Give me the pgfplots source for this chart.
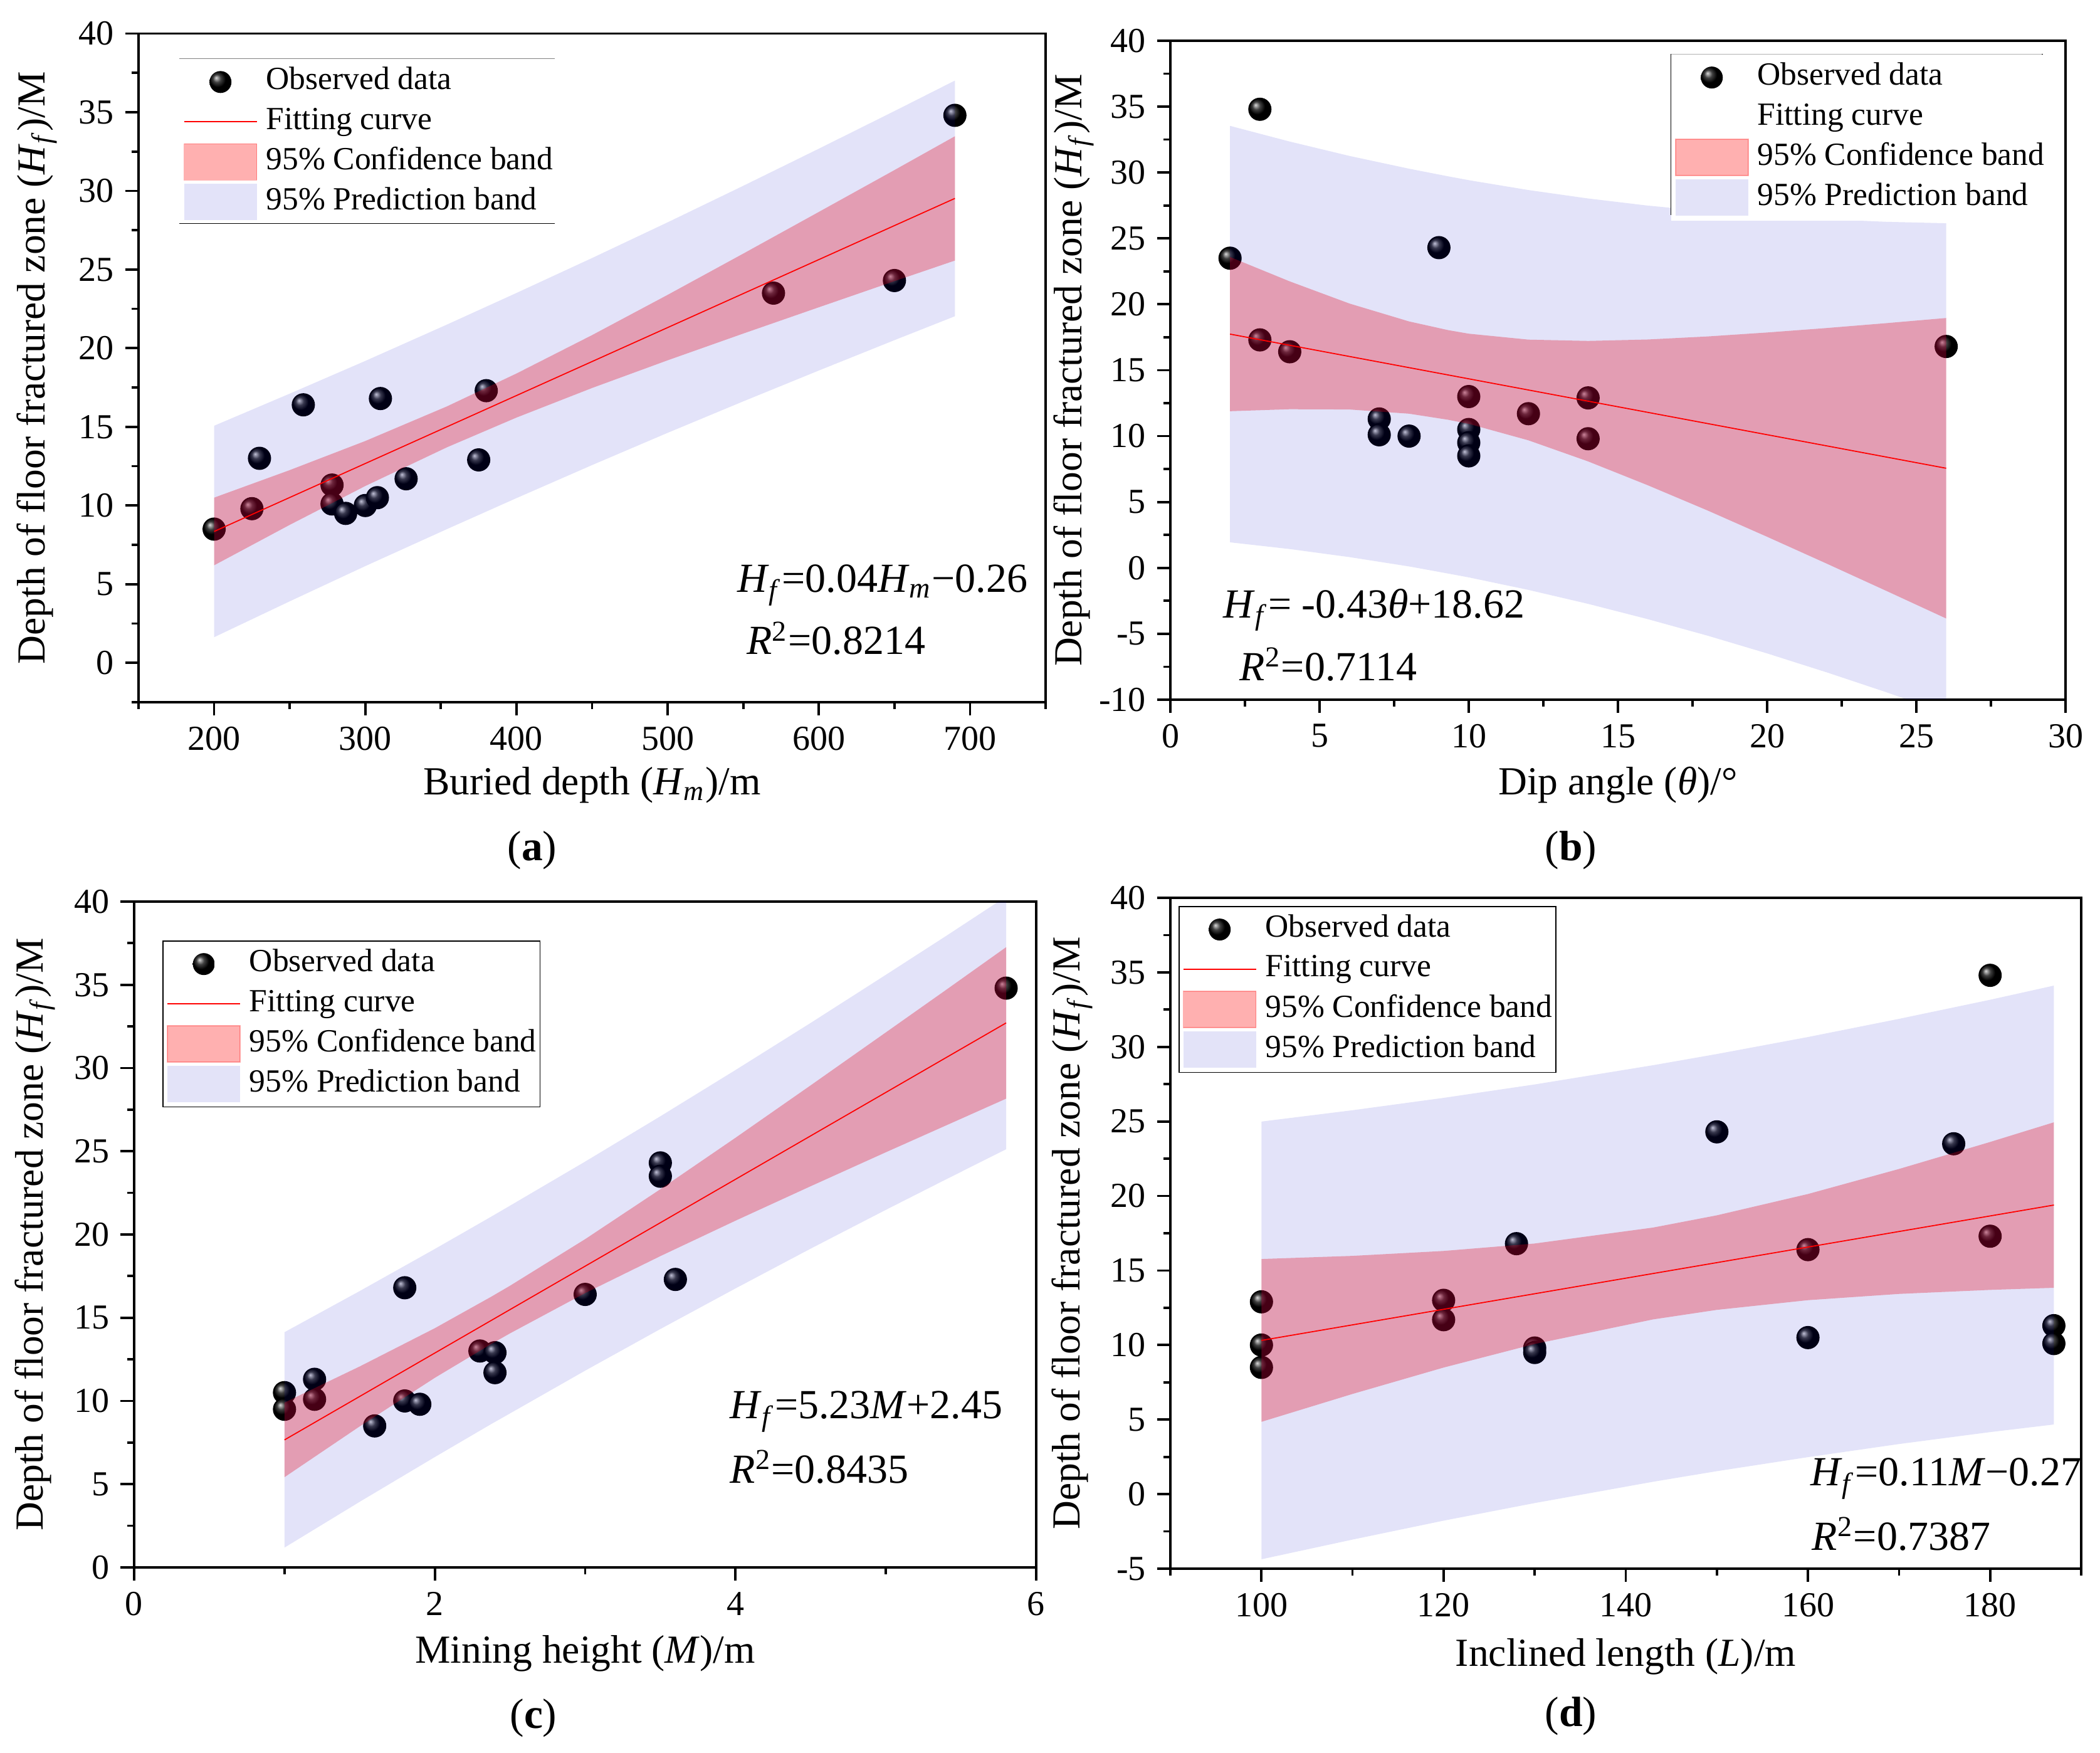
\documentclass[border=0pt]{standalone}
\usepackage{fontspec}
\setmainfont{Liberation Serif}
\usepackage{pgfplots}
\pgfplotsset{compat=1.18}
\definecolor{pibl}{RGB}{0,0,200}
\pgfplotsset{
  panel/.style={
    scale only axis, anchor=south west,
    clip marker paths=true,
    axis line style={line width=0.75pt},
    tick style={line width=0.75pt, black},
    major tick length=4.3pt, minor tick length=2.2pt,
    tick align=outside, xtick pos=bottom, ytick pos=left,
    minor tick num=1,
    /pgf/number format/assume math mode=true,
    /pgf/number format/1000 sep={},
    tick label style={font=\fontsize{11.2}{13}\selectfont},
    label style={font=\fontsize{12.7}{14}\selectfont},
    ylabel={Depth of floor fractured zone (\textit{H}\textsubscript{\textit{f}})/M},
    legend cell align=left,
    legend style={font=\fontsize{10.3}{12}\selectfont, inner xsep=1.2pt, inner ysep=1.5pt,
      row sep=1.07pt, nodes={inner sep=0pt, text height=7pt, text depth=2.2pt},
      /tikz/every odd column/.append style={column sep=2.8pt},
      line width=0.3pt, anchor=north west, fill=white},
  },
  obs/.style={only marks, mark=ball, mark size=3.5pt, mark options={ball color=black}, forget plot},
  ci/.style={draw=none, fill=red, fill opacity=0.31, forget plot},
  pi/.style={draw=none, fill=pibl, fill opacity=0.11, forget plot},
  fit/.style={red, line width=0.35pt, mark=none, forget plot},
  legball/.style={legend image code/.code={\path[draw=none, fill=none] (0pt,-5.8pt) rectangle (23.2pt,5.8pt); \shade[draw=none, ball color=black] (11.6pt,0pt) circle (3.5pt);}},
  legline/.style={legend image code/.code={\path[draw=none, fill=none] (0pt,-5.8pt) rectangle (23.2pt,5.8pt); \draw[red, line width=0.35pt] (0pt,0pt) -- (23.2pt,0pt);}},
  legnone/.style={legend image code/.code={\path[draw=none, fill=none] (0pt,-5.8pt) rectangle (23.2pt,5.8pt);}},
  legci/.style={legend image code/.code={\fill[draw=none, red, fill opacity=0.31] (0pt,-5.8pt) rectangle (23.2pt,5.8pt); \draw[red, draw opacity=0.3, fill=none, line width=0.3pt] (0pt,-5.8pt) rectangle (23.2pt,5.8pt);}},
  legpi/.style={legend image code/.code={\fill[draw=none, pibl, fill opacity=0.11] (0pt,-5.8pt) rectangle (23.2pt,5.8pt);}},
}
\newcommand{\eqfont}{\fontsize{13.2}{15}\selectfont}
\begin{document}
\begin{tikzpicture}
\useasboundingbox (0pt,0pt) rectangle (670pt,559.2pt);

% ---------------- (a)
\begin{axis}[panel, at={(44.2pt,335.2pt)}, width=289.4pt, height=213.3pt,
  xmin=150, xmax=750, ymin=-2.5, ymax=40,
  xtick={100,200,...,800}, ytick={-5,0,...,40},
  xlabel={Buried depth (\textit{H}\textsubscript{\textit{m}})/m},
  xlabel style={at={(axis description cs:0.5,-0.124)}, anchor=center},
  ylabel style={at={(axis description cs:-0.112,0.5)}, anchor=center},
  legend style={at={(0.045,0.9624)}, draw=none, fill=none}]
\addlegendimage{legball}
\addlegendimage{legline}
\addlegendimage{legci}
\addlegendimage{legpi}
\addplot[obs] coordinates {(200,8.5) (225,9.8) (230,13.0) (259,16.4) (278,11.3) (278,10.1) (287,9.5) (300,10.0) (308,10.5) (310,16.8) (327,11.7) (375,12.9) (380,17.3) (570,23.5) (650,24.3) (690,34.8)};
\addplot[ci] coordinates {(200,10.50) (250,12.25) (300,14.10) (354,16.30) (400,18.39) (450,20.83) (500,23.39) (550,26.01) (600,28.66) (650,31.32) (690,33.47)
 (690,25.57) (650,24.26) (600,22.60) (550,20.93) (500,19.23) (450,17.47) (400,15.59) (354,13.70) (300,11.24) (250,8.77) (200,6.20)} -- cycle;
\addplot[pi] coordinates {(200,15.07) (250,17.11) (300,19.19) (354,21.50) (400,23.51) (450,25.73) (500,28.00) (550,30.32) (600,32.68) (650,35.07) (690,37.01)
 (690,22.03) (650,20.51) (600,18.58) (550,16.62) (500,14.62) (450,12.57) (400,10.47) (354,8.50) (300,6.15) (250,3.91) (200,1.63)} -- cycle;
\addplot[fit] coordinates {(200,8.35) (690,29.52)};
\draw[gray, line width=0.3pt] (rel axis cs:0.045,0.9624) -- (rel axis cs:0.459,0.9624);
\draw[black, line width=0.3pt] (rel axis cs:0.045,0.716) -- (rel axis cs:0.459,0.716);
\node[anchor=base west, font=\eqfont, inner sep=0pt] at (axis cs:545.6,4.5) {\textit{H}\textsubscript{\textit{f}}=0.04\textit{H}\textsubscript{\textit{m}}−0.26};
\node[anchor=base west, font=\eqfont, inner sep=0pt] at (axis cs:552,0.53) {\textit{R}\textsuperscript{2}=0.8214};
\legend{Observed data, Fitting curve, 95\% Confidence band, 95\% Prediction band}
\end{axis}

% ---------------- (b)
\begin{axis}[panel, at={(373.4pt,336.0pt)}, width=285.6pt, height=210.2pt,
  xmin=0, xmax=30, ymin=-10, ymax=40,
  xtick={0,5,...,30}, ytick={-10,-5,...,40},
  xlabel={Dip angle (\textit{θ})/°},
  xlabel style={at={(axis description cs:0.5,-0.130)}, anchor=center},
  ylabel style={at={(axis description cs:-0.108,0.5)}, anchor=center},
  legend style={at={(0.559,0.9796)}, draw=none, fill=white}]
\addlegendimage{legball}
\addlegendimage{legnone}
\addlegendimage{legci}
\addlegendimage{legpi}
\addplot[obs] coordinates {(2,23.5) (3,34.8) (3,17.3) (4,16.4) (7,11.3) (7,10.1) (8,10.0) (9,24.3) (10,13.0) (10,10.5) (10,9.5) (10,8.5) (12,11.7) (14,12.9) (14,9.8) (26,16.8)};
\addplot[ci] coordinates {(2,23.59) (4,21.74) (6,20.06) (8,18.70) (9.31,18.04) (10,17.77) (12,17.32) (14,17.22) (16,17.33) (18,17.56) (20,17.86) (22,18.20) (24,18.57) (26,18.96)
 (26,-3.84) (24,-1.75) (22,0.32) (20,2.36) (18,4.36) (16,6.27) (14,8.08) (12,9.68) (10,10.93) (9.31,11.24) (8,11.70) (6,12.02) (4,12.04) (2,11.89)} -- cycle;
\addplot[pi] coordinates {(2,33.54) (4,32.35) (6,31.26) (8,30.29) (9.31,29.71) (10,29.42) (12,28.67) (14,28.03) (16,27.49) (18,27.06) (20,26.71) (22,26.45) (24,26.26) (26,26.15)
 (26,-11.03) (24,-9.44) (22,-7.93) (20,-6.49) (18,-5.14) (16,-3.89) (14,-2.73) (12,-1.67) (10,-0.72) (9.31,-0.43) (8,0.11) (6,0.82) (4,1.43) (2,1.94)} -- cycle;
\addplot[fit] coordinates {(2,17.74) (26,7.56)};
\draw[gray!60, line width=0.3pt] (rel axis cs:0.559,0.9796) -- (rel axis cs:0.974,0.9796);
\draw[black, line width=0.3pt] (rel axis cs:0.559,0.9796) -- (rel axis cs:0.559,0.7353);
\draw[black, line width=0.3pt] (rel axis cs:0.974,0.9796) -- (rel axis cs:0.974,0.7353);
\node[anchor=base west, font=\eqfont, inner sep=0pt] at (axis cs:1.76,-3.77) {\textit{H}\textsubscript{\textit{f}}= -0.43\textit{θ}+18.62};
\node[anchor=base west, font=\eqfont, inner sep=0pt] at (axis cs:2.31,-8.56) {\textit{R}\textsuperscript{2}=0.7114};
\legend{Observed data, Fitting curve, 95\% Confidence band, 95\% Prediction band}
\end{axis}

% ---------------- (c)
\begin{axis}[panel, at={(42.8pt,59.2pt)}, width=287.8pt, height=212.4pt,
  xmin=0, xmax=6, ymin=0, ymax=40,
  xtick={0,2,4,6}, ytick={0,5,...,40},
  xlabel={Mining height (\textit{M})/m},
  xlabel style={at={(axis description cs:0.5,-0.129)}, anchor=center},
  ylabel style={at={(axis description cs:-0.110,0.5)}, anchor=center},
  legend style={at={(0.0316,0.9412)}, draw=black}]
\addlegendimage{legball}
\addlegendimage{legline}
\addlegendimage{legci}
\addlegendimage{legpi}
\addplot[obs] coordinates {(1.0,10.5) (1.0,9.5) (1.2,11.3) (1.2,10.1) (1.6,8.5) (1.8,16.8) (1.8,10.0) (1.9,9.8) (2.3,13.0) (2.4,12.9) (2.4,11.7) (3.0,16.4) (3.5,24.3) (3.5,23.5) (3.6,17.3) (5.8,34.8)};
\addplot[ci] coordinates {(1.0,9.90) (1.5,12.07) (2.0,14.37) (2.375,16.26) (2.5,16.92) (3.0,19.72) (3.5,22.72) (4.0,25.81) (4.5,28.96) (5.0,32.14) (5.4,34.69) (5.8,37.26)
 (5.8,28.16) (5.4,26.55) (5.0,24.94) (4.5,22.90) (4.0,20.83) (3.5,18.70) (3.0,16.48) (2.5,14.06) (2.375,13.42) (2.0,11.39) (1.5,8.47) (1.0,5.42)} -- cycle;
\addplot[pi] coordinates {(1.0,14.13) (1.5,16.60) (2.0,19.13) (2.375,21.07) (2.5,21.73) (3.0,24.38) (3.5,27.10) (4.0,29.88) (4.5,32.71) (5.0,35.60) (5.4,37.93) (5.8,40.30)
 (5.8,25.12) (5.4,23.31) (5.0,21.48) (4.5,19.15) (4.0,16.76) (3.5,14.32) (3.0,11.82) (2.5,9.25) (2.375,8.61) (2.0,6.63) (1.5,3.94) (1.0,1.19)} -- cycle;
\addplot[fit] coordinates {(1.0,7.66) (5.8,32.71)};
\node[anchor=base west, font=\eqfont, inner sep=0pt] at (axis cs:3.96,8.93) {\textit{H}\textsubscript{\textit{f}}=5.23\textit{M}+2.45};
\node[anchor=base west, font=\eqfont, inner sep=0pt] at (axis cs:3.96,5.07) {\textit{R}\textsuperscript{2}=0.8435};
\legend{Observed data, Fitting curve, 95\% Confidence band, 95\% Prediction band}
\end{axis}

% ---------------- (d)
\begin{axis}[panel, at={(373.4pt,58.8pt)}, width=290.6pt, height=214.0pt,
  xmin=90, xmax=190, ymin=-5, ymax=40,
  xtick={80,100,...,200}, ytick={-5,0,...,40},
  xlabel={Inclined length (\textit{L})/m},
  xlabel style={at={(axis description cs:0.5,-0.131)}, anchor=center},
  ylabel style={at={(axis description cs:-0.108,0.5)}, anchor=center},
  legend style={at={(0.009,0.9875)}, draw=black}]
\addlegendimage{legball}
\addlegendimage{legline}
\addlegendimage{legci}
\addlegendimage{legpi}
\addplot[obs] coordinates {(100,12.9) (100,10.0) (100,8.5) (120,13.0) (120,11.7) (128,16.8) (130,9.8) (130,9.5) (150,24.3) (160,16.4) (160,10.5) (176,23.5) (180,34.8) (180,17.3) (187,11.3) (187,10.1)};
\addplot[ci] coordinates {(100,15.77) (110,15.98) (120,16.31) (130,16.81) (143,17.88) (150,18.70) (160,20.13) (170,21.81) (180,23.62) (187,24.94)
 (187,13.84) (180,13.70) (170,13.43) (160,13.01) (150,12.36) (143,11.72) (130,10.07) (120,8.49) (110,6.72) (100,4.85)} -- cycle;
\addplot[pi] coordinates {(100,24.99) (110,25.75) (120,26.58) (130,27.48) (143,28.77) (150,29.52) (160,30.66) (170,31.88) (180,33.16) (187,34.11)
 (187,4.67) (180,4.16) (170,3.36) (160,2.48) (150,1.54) (143,0.83) (130,-0.60) (120,-1.78) (110,-3.05) (100,-4.37)} -- cycle;
\addplot[fit] coordinates {(100,10.31) (187,19.39)};
\node[anchor=base west, font=\eqfont, inner sep=0pt] at (axis cs:160.2,0.56) {\textit{H}\textsubscript{\textit{f}}=0.11\textit{M}−0.27};
\node[anchor=base west, font=\eqfont, inner sep=0pt] at (axis cs:160.4,-3.75) {\textit{R}\textsuperscript{2}=0.7387};
\legend{Observed data, Fitting curve, 95\% Confidence band, 95\% Prediction band}
\end{axis}

\node[font=\fontsize{13.5}{15}\selectfont] at (169.8pt,287.9pt) {(\textbf{a})};
\node[font=\fontsize{13.5}{15}\selectfont] at (501.2pt,287.9pt) {(\textbf{b})};
\node[font=\fontsize{13.5}{15}\selectfont] at (170.2pt,11.2pt) {(\textbf{c})};
\node[font=\fontsize{13.5}{15}\selectfont] at (501.2pt,11.8pt) {(\textbf{d})};
\end{tikzpicture}
\end{document}
